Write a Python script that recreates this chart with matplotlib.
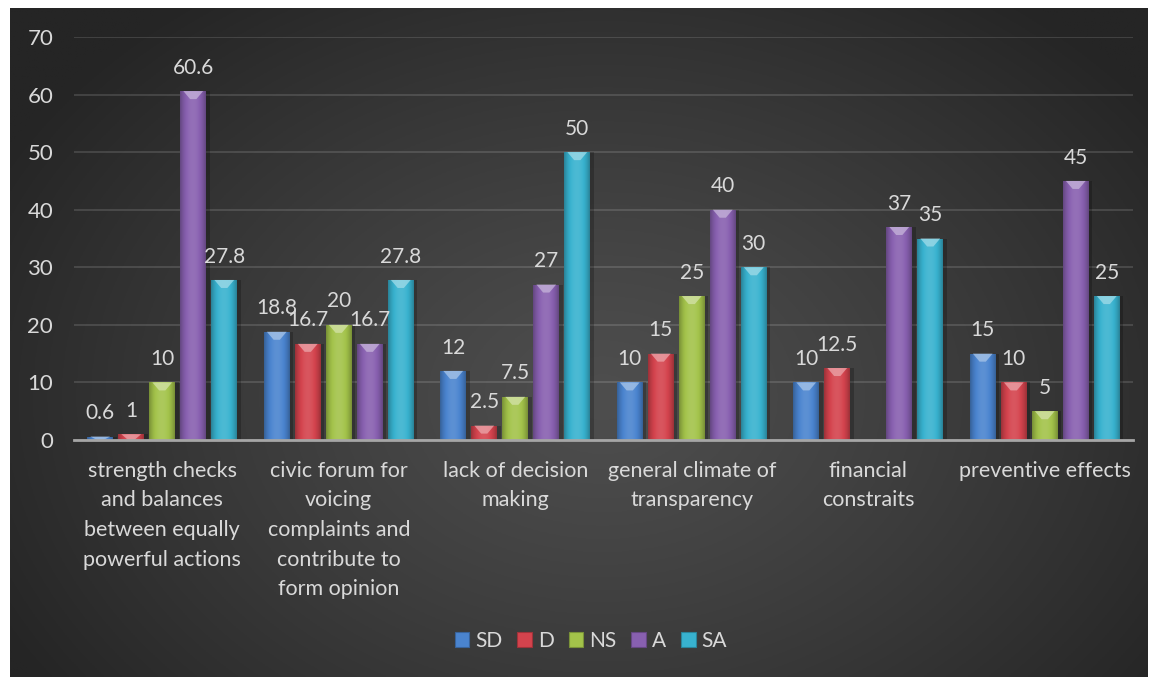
import numpy as np
import matplotlib
matplotlib.use("Agg")
import matplotlib.pyplot as plt
from matplotlib.patches import Rectangle, Polygon
from matplotlib.colors import to_rgb

plt.rcParams['font.family'] = ['Lato', 'DejaVu Sans']

categories = [
    "strength checks\nand balances\nbetween equally\npowerful actions",
    "civic forum for\nvoicing\ncomplaints and\ncontribute to\nform opinion",
    "lack of decision\nmaking",
    "general climate of\ntransparency",
    "financial\nconstraits",
    "preventive effects",
]
series_names = ["SD", "D", "NS", "A", "SA"]
SD = [0.6, 18.8, 12, 10, 10, 15]
D = [1, 16.7, 2.5, 15, 12.5, 10]
NS = [10, 20, 7.5, 25, None, 5]
A = [60.6, 16.7, 27, 40, 37, 45]
SA = [27.8, 27.8, 50, 30, 35, 25]
series_values = [SD, D, NS, A, SA]
yticks = [0, 10, 20, 30, 40, 50, 60, 70]

colors = ["#4a84cf", "#d4434d", "#a3c34a", "#8860b0", "#38b2cf"]
text_color = "#d9d9d9"

W, H = 1150, 677
fig = plt.figure(figsize=(W / 100, H / 100), dpi=100, facecolor="white")

# dark radial-gradient backdrop
bg = fig.add_axes([10 / W, 0, 1138 / W, 669 / H])
bg.set_axis_off()
ny, nx = 300, 500
yy, xx = np.mgrid[0:ny, 0:nx]
cx, cy = nx * 0.52, ny * 0.58
d = np.sqrt(((xx - cx) / (nx * 0.6)) ** 2 + ((yy - cy) / (ny * 0.75)) ** 2)
d = np.clip(d, 0, 1) ** 1.2
c0 = np.array([0x4e, 0x4e, 0x4e]) / 255
c1 = np.array([0x25, 0x25, 0x25]) / 255
img = c0[None, None, :] * (1 - d[..., None]) + c1[None, None, :] * d[..., None]
bg.imshow(img, extent=(0, 1, 0, 1), aspect="auto", origin="upper")
bg.set_xlim(0, 1)
bg.set_ylim(0, 1)

ax = fig.add_axes([74 / W, (H - 440) / H, (1133 - 74) / W, (440 - 37) / H])
ax.patch.set_alpha(0)
ax.set_xlim(-0.5, len(categories) - 0.5)
ax.set_ylim(0, 70)

px_per_unit = (440 - 37) / 70.0
pitch = 0.1757
width = 0.147
cap = 8 / px_per_unit


def shade(rgb, f):
    rgb = np.array(rgb)
    if f >= 1:
        return rgb + (1 - rgb) * (f - 1)
    return rgb * f


t = np.linspace(0, 1, 64)
profile = 0.72 + 0.38 * np.sin(np.pi * t) ** 0.8

for i, (name, vals, col) in enumerate(zip(series_names, series_values, colors)):
    base = to_rgb(col)
    xs = np.arange(len(categories)) + (i - 2) * pitch
    hv = [np.nan if v is None else v for v in vals]
    bars = ax.bar(xs, hv, width=width, color=col, zorder=3, label=name)
    grad = np.array([[shade(base, f) for f in profile]])
    grad = np.clip(grad, 0, 1)
    for x, v, b in zip(xs, vals, bars):
        if v is None:
            continue
        x0, x1 = x - width / 2, x + width / 2
        # soft shadow
        ax.add_patch(Rectangle((x0 + 0.02, 0), width, v, facecolor="black",
                               alpha=0.22, lw=0, zorder=2))
        im = ax.imshow(grad, extent=(x0, x1, 0, v), aspect="auto",
                       interpolation="bicubic", zorder=4)
        im.set_clip_path(b)
        ch = min(cap, v)
        hl = np.clip(np.array(base) + (1 - np.array(base)) * 0.5, 0, 1)
        ax.add_patch(Polygon([(x0 + 0.12 * width, v), (x1 - 0.12 * width, v),
                              (x + 0.12 * width, v - ch), (x - 0.12 * width, v - ch)],
                             closed=True, facecolor=hl, alpha=0.8, lw=0, zorder=5))
        lbl = f"{v:g}"
        ax.annotate(lbl, (x, v), xytext=(0, 12.5), textcoords="offset points",
                    ha="center", va="baseline", color=text_color, fontsize=15,
                    zorder=6)

ax.set_yticks(yticks)
ax.set_xticks(range(len(categories)))
ax.set_xticklabels(categories, linespacing=1.6, fontsize=15.5)
ax.tick_params(axis="both", length=0, colors=text_color)
ax.tick_params(axis="y", pad=15, labelsize=16)
ax.tick_params(axis="x", pad=15)
ax.grid(axis="y", color="white", alpha=0.13, lw=1.5, zorder=0)
ax.set_axisbelow(True)
for s in ["left", "right", "top"]:
    ax.spines[s].set_visible(False)
ax.spines["bottom"].set_color("#a6a6a6")
ax.spines["bottom"].set_linewidth(2)
ax.spines["bottom"].set_zorder(7)

handles = [Rectangle((0, 0), 1, 1, facecolor=c, edgecolor=shade(to_rgb(c), 0.75), lw=0.8)
           for c in colors]
leg = fig.legend(handles, series_names, loc="center", bbox_to_anchor=(591 / W, 1 - 641 / H),
                 ncol=5, frameon=False, fontsize=15, handlelength=0.7, handleheight=0.75,
                 handletextpad=0.3, columnspacing=0.7, labelcolor=text_color)

fig.savefig("out.png", dpi=100, facecolor="white")
